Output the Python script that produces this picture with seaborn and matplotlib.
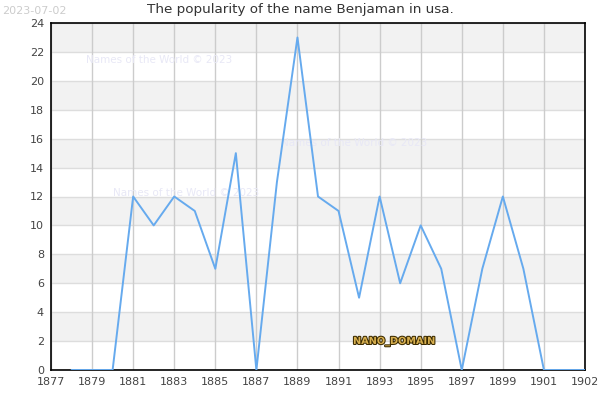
import matplotlib
matplotlib.use("Agg")
import matplotlib.pyplot as plt
import matplotlib.patheffects as pe
import seaborn as sns
import pandas as pd

years = list(range(1878, 1904))
counts = [0, 0, 0, 12, 10, 12, 11, 7, 15, 0, 13, 23, 12, 11, 5, 12, 6, 10, 7, 0, 7, 12, 7, 0, 0, 0]
xticks = list(range(1877, 1902, 2)) + [1903]
xlabels = [str(y) for y in range(1877, 1902, 2)] + ["1902"]
yticks = list(range(0, 25, 2))

df = pd.DataFrame({"year": years, "count": counts})

sns.set_style("white")
plt.rcParams["font.family"] = ["DejaVu Sans"]

fig = plt.figure(figsize=(6, 4), dpi=100)
ax = fig.add_axes([0.085, 0.075, 0.89, 0.8675])

# alternating bands
for y0 in range(2, 24, 4):
    ax.axhspan(y0, y0 + 2, color="#f2f2f2", zorder=0, lw=0)
for y in yticks:
    ax.axhline(y, color="#dddddd", lw=1, zorder=1)
for x in xticks:
    ax.axvline(x, color="#cccccc", lw=1, zorder=1)

sns.lineplot(data=df, x="year", y="count", color="#66aaee", lw=1.4, ax=ax, zorder=3)

ax.set_xlim(1877, 1903)
ax.set_ylim(0, 24)
ax.set_xticks(xticks)
ax.set_xticklabels(xlabels)
ax.set_yticks(yticks)
ax.tick_params(labelsize=8, colors="#444444", length=0, pad=5)
ax.set_xlabel("")
ax.set_ylabel("")
for s in ax.spines.values():
    s.set_color("black")
    s.set_linewidth(1.2)
    s.set_visible(True)

fig.text(0.5, 0.975, "The popularity of the name Benjaman in usa.", fontsize=9.7,
         color="#333333", ha="center", va="center")

wm = dict(fontsize=7.5, color="#e8e8f6", transform=ax.transAxes, zorder=2)
ax.text(0.065, 0.885, "Names of the World © 2023", **wm)
ax.text(0.43, 0.645, "Names of the World © 2023", **wm)
ax.text(0.117, 0.5, "Names of the World © 2023", **wm)

fig.text(0.003, 0.985, "2023-07-02", fontsize=8, color="#cccccc", va="top")

ax.text(1893.7, 2, "NANO_DOMAIN", fontsize=7, fontweight="bold", color="#d8b050",
        ha="center", va="center", zorder=4,
        path_effects=[pe.withStroke(linewidth=1.5, foreground="#3a2a00")])

fig.savefig("out.png", dpi=100)
